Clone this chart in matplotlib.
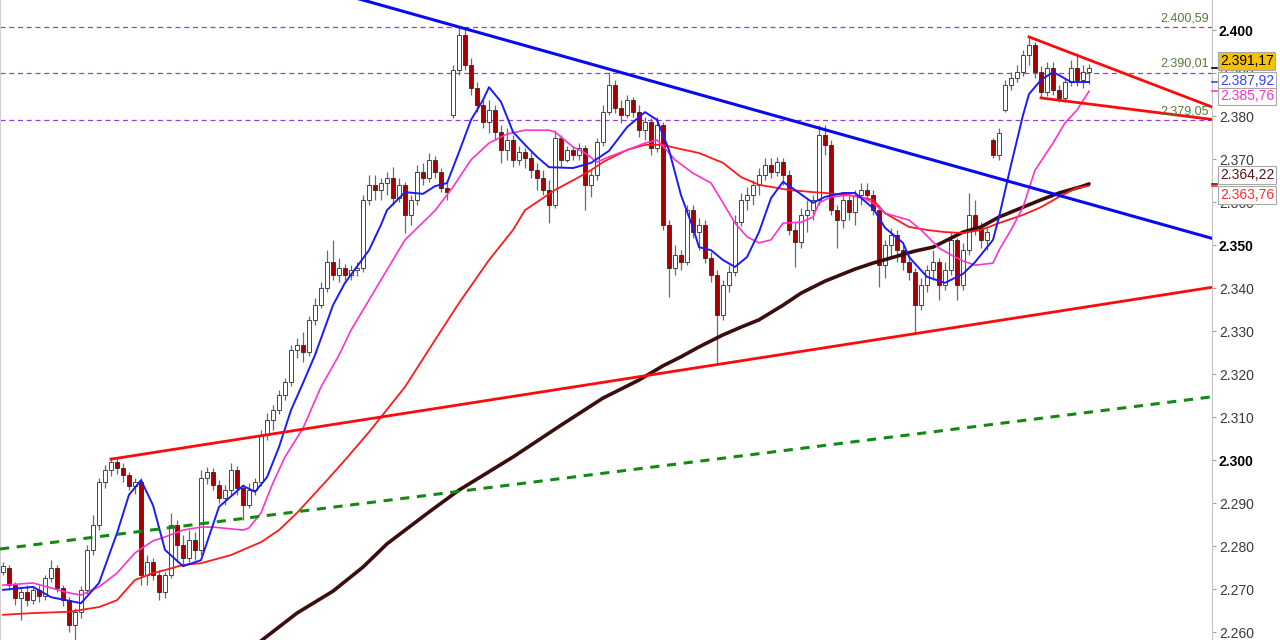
import numpy as np
import matplotlib.pyplot as plt
from matplotlib.transforms import blended_transform_factory

plt.rcParams['font.family'] = ['Liberation Sans', 'DejaVu Sans']

# ---- candles (one per bar) ----
opens = [2.2739, 2.2749, 2.2709, 2.2679, 2.2693, 2.2674, 2.2698, 2.2684, 2.2726, 2.2749,
         2.2702, 2.2674, 2.2616, 2.2647, 2.2698, 2.2791, 2.2849, 2.2949, 2.2977, 2.2995,
         2.2981, 2.2965, 2.2940, 2.2949, 2.2733, 2.2763, 2.2733, 2.2693, 2.2733, 2.2849,
         2.2802, 2.2772, 2.2814, 2.2791, 2.2958, 2.2972, 2.2942, 2.2912, 2.2930, 2.2977,
         2.2935, 2.2895, 2.2930, 2.2949, 2.3058, 2.3093, 2.3116, 2.3151, 2.3181, 2.3256,
         2.3267, 2.3251, 2.3326, 2.3360, 2.3400, 2.3460, 2.3430, 2.3447, 2.3430, 2.3442,
         2.3447, 2.3605, 2.3640, 2.3628, 2.3644, 2.3656, 2.3609, 2.3640, 2.3570, 2.3605,
         2.3670, 2.3656, 2.3698, 2.3670, 2.3633, 2.3802, 2.3907, 2.3988, 2.3919, 2.3865,
         2.3826, 2.3786, 2.3814, 2.3763, 2.3721, 2.3744, 2.3698, 2.3716, 2.3702, 2.3674,
         2.3656, 2.3628, 2.3593, 2.3749, 2.3698, 2.3721, 2.3709, 2.3726, 2.3640, 2.3663,
         2.3740, 2.3809, 2.3872, 2.3819, 2.3802, 2.3837, 2.3809, 2.3767, 2.3786, 2.3726,
         2.3779, 2.3547, 2.3447, 2.3477, 2.3460, 2.3581, 2.3530, 2.3547, 2.3470, 2.3430,
         2.3337, 2.3407, 2.3437, 2.3553, 2.3605, 2.3616, 2.3640, 2.3663, 2.3686, 2.3670,
         2.3693, 2.3663, 2.3535, 2.3507, 2.3570, 2.3581, 2.3605, 2.3756, 2.3733, 2.3581,
         2.3558, 2.3605, 2.3577, 2.3616, 2.3628, 2.3616, 2.3581, 2.3453, 2.3500, 2.3523,
         2.3488, 2.3460, 2.3437, 2.3360, 2.3407, 2.3442, 2.3460, 2.3407, 2.3442, 2.3512,
         2.3407, 2.3488, 2.3570, 2.3540, 2.3512, 2.3744, 2.3709, 2.3814, 2.3872, 2.3888,
         2.3902, 2.3942, 2.3965, 2.3902, 2.3856, 2.3912, 2.3860, 2.3842, 2.3879, 2.3912,
         2.3884, 2.3902]
highs = [2.2762, 2.2756, 2.2716, 2.2702, 2.2709, 2.2707, 2.2709, 2.2732, 2.2767, 2.2756,
         2.2709, 2.2681, 2.2656, 2.2707, 2.2802, 2.2872, 2.2958, 2.2988, 2.3007, 2.3005,
         2.2993, 2.2972, 2.2958, 2.2958, 2.2779, 2.2772, 2.2744, 2.2739, 2.2877, 2.2860,
         2.2826, 2.2837, 2.2833, 2.2977, 2.2984, 2.2981, 2.2953, 2.2942, 2.2993, 2.2986,
         2.2944, 2.2947, 2.2958, 2.3070, 2.3109, 2.3128, 2.3163, 2.3191, 2.3267, 2.3284,
         2.3298, 2.3335, 2.3377, 2.3414, 2.3488, 2.3512, 2.3470, 2.3456, 2.3453, 2.3460,
         2.3616, 2.3663, 2.3663, 2.3656, 2.3670, 2.3681, 2.3656, 2.3647, 2.3616, 2.3686,
         2.3691, 2.3714, 2.3707, 2.3679, 2.3651, 2.3919, 2.4007, 2.4005, 2.3935, 2.3879,
         2.3837, 2.3837, 2.3826, 2.3779, 2.3772, 2.3756, 2.3730, 2.3726, 2.3716, 2.3691,
         2.3674, 2.3651, 2.3767, 2.3756, 2.3730, 2.3730, 2.3737, 2.3733, 2.3674, 2.3749,
         2.3826, 2.3902, 2.3884, 2.3837, 2.3849, 2.3844, 2.3826, 2.3798, 2.3795, 2.3798,
         2.3786, 2.3558, 2.3500, 2.3488, 2.3593, 2.3593, 2.3563, 2.3558, 2.3484, 2.3442,
         2.3419, 2.3453, 2.3570, 2.3621, 2.3635, 2.3651, 2.3679, 2.3702, 2.3702, 2.3705,
         2.3702, 2.3674, 2.3553, 2.3586, 2.3605, 2.3616, 2.3779, 2.3779, 2.3744, 2.3593,
         2.3623, 2.3619, 2.3628, 2.3644, 2.3644, 2.3628, 2.3593, 2.3512, 2.3540, 2.3535,
         2.3500, 2.3477, 2.3447, 2.3423, 2.3453, 2.3488, 2.3470, 2.3460, 2.3528, 2.3516,
         2.3505, 2.3621, 2.3605, 2.3553, 2.3540, 2.3749, 2.3772, 2.3884, 2.3902, 2.3919,
         2.3953, 2.3984, 2.3972, 2.3916, 2.3926, 2.3926, 2.3872, 2.3888, 2.3930, 2.3947,
         2.3919, 2.3921]
lows = [2.2732, 2.2698, 2.2663, 2.2628, 2.2660, 2.2665, 2.2670, 2.2674, 2.2716, 2.2693,
        2.2660, 2.2600, 2.2581, 2.2633, 2.2688, 2.2779, 2.2837, 2.2935, 2.2963, 2.2967,
        2.2949, 2.2930, 2.2921, 2.2709, 2.2709, 2.2721, 2.2674, 2.2679, 2.2726, 2.2763,
        2.2756, 2.2763, 2.2767, 2.2779, 2.2944, 2.2930, 2.2900, 2.2895, 2.2919, 2.2919,
        2.2860, 2.2888, 2.2919, 2.2940, 2.3047, 2.3070, 2.3107, 2.3140, 2.3172, 2.3237,
        2.3228, 2.3242, 2.3314, 2.3353, 2.3391, 2.3419, 2.3414, 2.3419, 2.3419, 2.3428,
        2.3437, 2.3593, 2.3605, 2.3605, 2.3616, 2.3593, 2.3600, 2.3528, 2.3547, 2.3593,
        2.3640, 2.3647, 2.3656, 2.3623, 2.3605, 2.3795, 2.3895, 2.3907, 2.3849, 2.3809,
        2.3772, 2.3760, 2.3744, 2.3691, 2.3698, 2.3681, 2.3686, 2.3679, 2.3656, 2.3628,
        2.3616, 2.3551, 2.3586, 2.3681, 2.3693, 2.3698, 2.3698, 2.3581, 2.3612, 2.3651,
        2.3730, 2.3802, 2.3807, 2.3784, 2.3795, 2.3798, 2.3751, 2.3744, 2.3709, 2.3716,
        2.3535, 2.3379, 2.3430, 2.3442, 2.3453, 2.3516, 2.3488, 2.3458, 2.3414, 2.3226,
        2.3326, 2.3391, 2.3428, 2.3544, 2.3581, 2.3593, 2.3616, 2.3651, 2.3656, 2.3660,
        2.3640, 2.3523, 2.3449, 2.3493, 2.3530, 2.3558, 2.3593, 2.3709, 2.3570, 2.3493,
        2.3540, 2.3558, 2.3547, 2.3593, 2.3605, 2.3570, 2.3402, 2.3423, 2.3470, 2.3460,
        2.3442, 2.3419, 2.3295, 2.3349, 2.3391, 2.3419, 2.3372, 2.3395, 2.3430, 2.3372,
        2.3395, 2.3477, 2.3523, 2.3493, 2.3488, 2.3702, 2.3698, 2.3809, 2.3860, 2.3879,
        2.3893, 2.3919, 2.3888, 2.3842, 2.3847, 2.3849, 2.3833, 2.3833, 2.3870, 2.3870,
        2.3865, 2.3874]
closes = [2.2753, 2.2709, 2.2679, 2.2693, 2.2674, 2.2698, 2.2684, 2.2726, 2.2749, 2.2702,
          2.2674, 2.2616, 2.2647, 2.2698, 2.2791, 2.2849, 2.2949, 2.2977, 2.2995, 2.2981,
          2.2965, 2.2940, 2.2949, 2.2733, 2.2763, 2.2733, 2.2693, 2.2733, 2.2849, 2.2802,
          2.2772, 2.2814, 2.2791, 2.2958, 2.2972, 2.2942, 2.2912, 2.2930, 2.2977, 2.2935,
          2.2895, 2.2930, 2.2949, 2.3058, 2.3093, 2.3116, 2.3151, 2.3181, 2.3256, 2.3267,
          2.3251, 2.3326, 2.3360, 2.3400, 2.3460, 2.3430, 2.3447, 2.3430, 2.3442, 2.3447,
          2.3605, 2.3640, 2.3628, 2.3644, 2.3656, 2.3609, 2.3640, 2.3570, 2.3605, 2.3670,
          2.3656, 2.3698, 2.3670, 2.3633, 2.3623, 2.3907, 2.3988, 2.3919, 2.3865, 2.3826,
          2.3786, 2.3814, 2.3763, 2.3721, 2.3744, 2.3698, 2.3716, 2.3702, 2.3674, 2.3656,
          2.3628, 2.3593, 2.3749, 2.3698, 2.3721, 2.3709, 2.3726, 2.3640, 2.3663, 2.3740,
          2.3809, 2.3872, 2.3819, 2.3802, 2.3837, 2.3809, 2.3767, 2.3786, 2.3726, 2.3779,
          2.3547, 2.3447, 2.3477, 2.3460, 2.3581, 2.3530, 2.3547, 2.3470, 2.3430, 2.3337,
          2.3407, 2.3437, 2.3553, 2.3605, 2.3616, 2.3640, 2.3663, 2.3686, 2.3670, 2.3693,
          2.3663, 2.3535, 2.3507, 2.3570, 2.3581, 2.3605, 2.3756, 2.3733, 2.3581, 2.3558,
          2.3605, 2.3577, 2.3616, 2.3628, 2.3616, 2.3581, 2.3453, 2.3500, 2.3523, 2.3488,
          2.3460, 2.3437, 2.3360, 2.3407, 2.3442, 2.3460, 2.3407, 2.3442, 2.3512, 2.3407,
          2.3488, 2.3570, 2.3540, 2.3512, 2.3530, 2.3709, 2.3760, 2.3872, 2.3888, 2.3902,
          2.3942, 2.3965, 2.3902, 2.3856, 2.3912, 2.3860, 2.3842, 2.3879, 2.3912, 2.3884,
          2.3902, 2.39117]

# ---- moving averages (bar index, value) ----
blue_idx = [0, 5, 8, 13, 16, 19, 21, 23, 25, 27, 30, 33, 36, 40, 42, 44, 46, 48, 50, 52,
            55, 57, 61, 63, 64, 67, 70, 72, 74, 76, 78, 80, 81, 83, 85, 87, 89, 91, 95, 98,
            101, 104, 107, 109, 111, 113, 115, 116, 118, 120, 122, 124, 126, 128, 130, 132,
            135, 137, 140, 142, 145, 147, 150, 151, 154, 157, 160, 162, 165, 166, 168, 170,
            171, 173, 175, 176, 178, 180, 181]
blue_val = [2.2698, 2.2705, 2.2681, 2.2667, 2.2714, 2.2830, 2.2919, 2.2953, 2.2895, 2.2791,
            2.2753, 2.2767, 2.2891, 2.2940, 2.2926, 2.2960, 2.3030, 2.3116, 2.3179, 2.3244,
            2.3360, 2.3412, 2.3488, 2.3547, 2.3581, 2.3623, 2.3619, 2.3637, 2.3644, 2.3716,
            2.3791, 2.3837, 2.3867, 2.3833, 2.3763, 2.3733, 2.3705, 2.3681, 2.3679, 2.3691,
            2.3719, 2.3774, 2.3809, 2.3791, 2.3721, 2.3616, 2.3540, 2.3495, 2.3488, 2.3465,
            2.3449, 2.3472, 2.3530, 2.3609, 2.3647, 2.3628, 2.3598, 2.3612, 2.3621, 2.3621,
            2.3586, 2.3540, 2.3505, 2.3472, 2.3426, 2.3412, 2.3433, 2.3460, 2.3512, 2.3565,
            2.3686, 2.3802, 2.3851, 2.3884, 2.3902, 2.3895, 2.3879, 2.3879, 2.38792]

pink_idx = [0, 5, 11, 13, 16, 19, 22, 25, 27, 30, 33, 35, 40, 41, 43, 45, 47, 50, 53, 56,
            58, 61, 63, 67, 72, 75, 78, 81, 84, 87, 91, 92, 95, 97, 99, 101, 104, 107, 109, 110,
            112, 115, 118, 120, 122, 124, 126, 128, 130, 133, 135, 136, 138, 141, 143, 145,
            147, 151, 153, 156, 158, 160, 162, 165, 166, 168, 170, 172, 175, 177, 179, 181]
pink_val = [2.2709, 2.2714, 2.2691, 2.2686, 2.2705, 2.2737, 2.2784, 2.2812, 2.2821, 2.2837,
            2.2844, 2.2844, 2.2837, 2.2842, 2.2877, 2.2947, 2.3007, 2.3074, 2.3170, 2.3244,
            2.3302, 2.3372, 2.3419, 2.3512, 2.3580, 2.3635, 2.3698, 2.3737, 2.3758, 2.3767,
            2.3767, 2.3763, 2.3728, 2.3714, 2.3693, 2.3705, 2.3721, 2.3737, 2.3744, 2.3730,
            2.3698, 2.3667, 2.3644, 2.3598, 2.3551, 2.3519, 2.3505, 2.3512, 2.3551, 2.3553,
            2.3565, 2.3598, 2.3612, 2.3616, 2.3612, 2.3598, 2.3574, 2.3558, 2.3535, 2.3493,
            2.3477, 2.3463, 2.3453, 2.3458, 2.3488, 2.3535, 2.3588, 2.3674, 2.3737, 2.3784,
            2.3814, 2.38576]

red_idx = [0, 5, 11, 16, 19, 22, 25, 27, 30, 33, 38, 43, 46, 49, 54, 57, 61, 67, 72, 76,
           81, 85, 87, 92, 96, 98, 100, 104, 107, 110, 112, 116, 120, 123, 126, 131, 135, 137,
           141, 145, 147, 151, 154, 157, 160, 163, 166, 170, 173, 176, 179, 181]
red_val = [2.2640, 2.2644, 2.2647, 2.2658, 2.2674, 2.2721, 2.2737, 2.2744, 2.2756, 2.2760,
           2.2779, 2.2809, 2.2837, 2.2877, 2.2953, 2.3000, 2.3065, 2.3170, 2.3279, 2.3365,
           2.3465, 2.3535, 2.3581, 2.3628, 2.3658, 2.3674, 2.3693, 2.3721, 2.3733, 2.3733,
           2.3726, 2.3714, 2.3691, 2.3658, 2.3640, 2.3628, 2.3623, 2.3621, 2.3616, 2.3605,
           2.3574, 2.3542, 2.3535, 2.3530, 2.3528, 2.3535, 2.3551, 2.3570, 2.3588, 2.3612,
           2.3633, 2.36376]

dark_idx = [40, 49, 55, 60, 64, 71, 76, 85, 93, 100, 106, 110, 113, 116, 120, 123, 126, 130,
            133, 137, 142, 145, 148, 152, 155, 158, 160, 163, 166, 170, 173, 176, 180, 181]
dark_val = [2.2547, 2.2644, 2.2695, 2.2751, 2.2805, 2.2879, 2.2930, 2.3007, 2.3081, 2.3144,
            2.3186, 2.3219, 2.3240, 2.3263, 2.3291, 2.3309, 2.3326, 2.3360, 2.3388, 2.3416,
            2.3444, 2.3458, 2.3470, 2.3486, 2.3495, 2.3516, 2.3530, 2.3542, 2.3565, 2.3588,
            2.3605, 2.3621, 2.3637, 2.36422]

# ---- trend lines (two anchors each) and horizontal levels ----
down_tl_idx = [76, 136]
down_tl_val = [2.4007, 2.3772]
up_tl_idx = [18, 119]
up_tl_val = [2.3002, 2.3222]
green_idx = [-0.5, 201.5]
green_val = [2.2793, 2.3147]
tri_hi_idx = [171, 201.5]
tri_hi_val = [2.3984, 2.3821]
tri_lo_idx = [173, 201.5]
tri_lo_val = [2.3842, 2.3792]
levels = [2.40059, 2.39001, 2.37905]

yticks = [2.26, 2.27, 2.28, 2.29, 2.30, 2.31, 2.32, 2.33, 2.34, 2.35, 2.36, 2.37, 2.38, 2.39, 2.40]
bold_ticks = [2.30, 2.35, 2.40]

X_END = 201.5


def fmt(v):
    s = '{:.5f}'.format(v)
    return s[:5] + ',' + s[5:]


def extend(idx, val, x_start, x_end):
    slope = (val[1] - val[0]) / (idx[1] - idx[0])
    return ([x_start, x_end],
            [val[0] + slope * (x_start - idx[0]), val[0] + slope * (x_end - idx[0])])


o = np.array(opens)
h = np.array(highs)
l = np.array(lows)
c = np.array(closes)
x = np.arange(len(c))
up = c >= o

fig = plt.figure(figsize=(12.8, 6.4), dpi=100)
ax = fig.add_axes([0, 0, 1212 / 1280, 1])
ax.set_xlim(-0.5, X_END)
ax.set_ylim(2.25814, 2.40698)

# levels
for lv in levels:
    ax.axhline(lv, color='#9b3ad8', lw=0.9, dashes=(4, 3), zorder=1)
    ax.annotate(fmt(lv), (X_END, lv), xytext=(-3, 3), textcoords='offset pixels',
                ha='right', va='bottom', fontsize=9, color='#577a3e', zorder=6)

# candles
ax.vlines(x, l, h, color='#6a6a6a', lw=0.9, zorder=2)
ax.bar(x[up], np.maximum(c - o, 0.00004)[up], bottom=o[up], width=0.6,
       color='white', edgecolor='#2a2a2a', lw=0.6, zorder=3)
ax.bar(x[~up], (o - c)[~up], bottom=c[~up], width=0.6,
       color='#a80000', edgecolor='#2a2a2a', lw=0.6, zorder=3)

# moving averages
ax.plot(dark_idx, dark_val, color='#3b0d0d', lw=2.6, zorder=4, solid_capstyle='round')
ax.plot(red_idx, red_val, color='#ff1a1a', lw=1.3, zorder=4)
ax.plot(pink_idx, pink_val, color='#ff33cc', lw=1.2, zorder=4)
ax.plot(blue_idx, blue_val, color='#1a1aff', lw=1.4, zorder=4)

# trend lines
ax.plot(*extend(down_tl_idx, down_tl_val, 55, X_END), color='#0a0aee', lw=2.2, zorder=5)
ax.plot(*extend(up_tl_idx, up_tl_val, up_tl_idx[0], X_END), color='#ff0a0a', lw=2.0, zorder=5)
ax.plot(green_idx, green_val, color='#128a12', lw=2.2, dashes=(3, 2.5), zorder=5)
ax.plot(tri_hi_idx, tri_hi_val, color='#ff0a0a', lw=2.0, zorder=5)
ax.plot(tri_lo_idx, tri_lo_val, color='#ff0a0a', lw=2.0, zorder=5)

# axes styling
for s in ['top', 'bottom']:
    ax.spines[s].set_visible(False)
ax.spines['right'].set_color('#c4c4c4')
ax.spines['left'].set_color('#d0d0d0')
ax.spines['left'].set_linewidth(0.8)
ax.set_xticks([])
ax.yaxis.tick_right()
ax.set_yticks(yticks)
ax.set_yticklabels(['{:.3f}'.format(t) for t in yticks])
ax.tick_params(axis='y', length=3, width=0.8, color='#a0a0a0', pad=2,
               labelsize=10, labelcolor='#3a3a3a')
for t, lab in zip(yticks, ax.get_yticklabels()):
    if any(abs(t - b) < 1e-9 for b in bold_ticks):
        lab.set_fontweight('bold')
        lab.set_color('black')

# value boxes on the right axis
tr = blended_transform_factory(ax.transAxes, ax.transData)
boxes = [
    (blue_val[-1], 1, '#3344ff', 'white'),
    (closes[-1], 7, 'black', '#f5c200'),
    (pink_val[-1], -5, '#ff33cc', 'white'),
    (dark_val[-1], 9, '#5a1414', 'white'),
    (red_val[-1], -9, '#ff2a2a', 'white'),
]
for v, dy, col, fc in boxes:
    ax.plot([1.0, 1.004], [v, v], color=col, lw=1.2, transform=tr, clip_on=False, zorder=6)
    ax.annotate(fmt(v), (1.0, v), xycoords=tr, xytext=(8, dy), textcoords='offset pixels',
                ha='left', va='center', fontsize=10, color=col, zorder=7,
                bbox=dict(boxstyle='square,pad=0.12', fc=fc, ec='#a8a8a8', lw=0.8),
                annotation_clip=False)

fig.savefig('out.png', dpi=100, facecolor='white')
